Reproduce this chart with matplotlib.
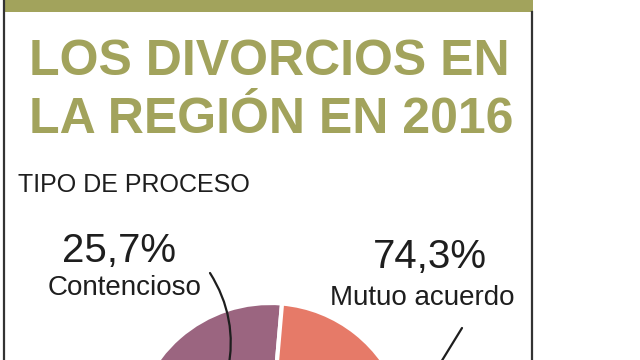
import matplotlib
matplotlib.use('Agg')
import matplotlib.pyplot as plt
from matplotlib.patches import Rectangle

plt.rcParams['font.family'] = ['Liberation Sans', 'DejaVu Sans']

# data
categories = ['Contencioso', 'Mutuo acuerdo']
shares = [25.7, 74.3]
share_labels = ['25,7%', '74,3%']
colors = ['#9b6580', '#e67a68']
title_lines = ['LOS DIVORCIOS EN', 'LA REGIÓN EN 2016']
subtitle = 'TIPO DE PROCESO'

olive = '#a2a35c'
ink = '#1e1e1e'

fig = plt.figure(figsize=(6.4, 3.6), dpi=100)
fig.patch.set_facecolor('white')
ax = fig.add_axes([0, 0, 1, 1])

# pie (cut off by the bottom of the image)
ax.pie(shares, colors=colors, startangle=85, counterclock=True,
       center=(270, -81), radius=138,
       wedgeprops=dict(edgecolor='white', linewidth=3))

ax.set_xlim(0, 640)
ax.set_ylim(0, 360)
ax.set_aspect('equal')
ax.axis('off')

# panel frame + green top bar
ax.add_patch(Rectangle((3, 348), 530, 12, facecolor=olive, edgecolor='none', zorder=3))
ax.plot([3.5, 3.5], [0, 360], color='#333333', lw=1.6, zorder=4)
ax.plot([532, 532], [0, 348], color='#333333', lw=1.6, zorder=4)

# titles
ax.text(29, 285, title_lines[0], color=olive, fontsize=36, fontweight='bold',
        ha='left', va='baseline')
ax.text(29, 227, title_lines[1], color=olive, fontsize=36, fontweight='bold',
        ha='left', va='baseline')
ax.text(18, 168, subtitle, color=ink, fontsize=18, ha='left', va='baseline')

# labels
ax.text(62, 98, share_labels[0], color=ink, fontsize=29, ha='left', va='baseline')
ax.text(48, 65, categories[0], color=ink, fontsize=20, ha='left', va='baseline')
ax.text(373, 92, share_labels[1], color=ink, fontsize=29, ha='left', va='baseline')
ax.text(330, 55, categories[1], color=ink, fontsize=20, ha='left', va='baseline')

# leader lines
ax.annotate('', xy=(228, -10), xytext=(210, 87), annotation_clip=False,
            arrowprops=dict(arrowstyle='-', color=ink, lw=1.6,
                            connectionstyle='arc3,rad=-0.2',
                            shrinkA=0, shrinkB=0))
ax.annotate('', xy=(430, -20), xytext=(462, 32), annotation_clip=False,
            arrowprops=dict(arrowstyle='-', color=ink, lw=1.6,
                            shrinkA=0, shrinkB=0))

fig.savefig('out.png', dpi=100, facecolor='white')
